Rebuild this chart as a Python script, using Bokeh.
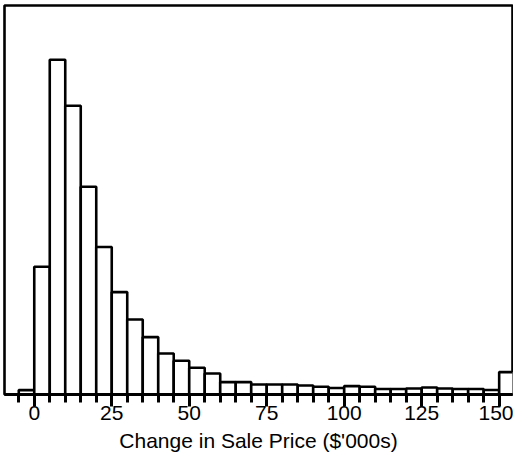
from bokeh.plotting import figure
from bokeh.models import SingleIntervalTicker, Range1d
from bokeh.embed import file_html
from bokeh.resources import INLINE

# Histogram of change in sale price ($'000s), bins of width 5
bin_left = [-5, 0, 5, 10, 15, 20, 25, 30, 35, 40, 45, 50, 55, 60, 65, 70,
            75, 80, 85, 90, 95, 100, 105, 110, 115, 120, 125, 130, 135, 140,
            145, 150]
bin_right = [0, 5, 10, 15, 20, 25, 30, 35, 40, 45, 50, 55, 60, 65, 70, 75,
             80, 85, 90, 95, 100, 105, 110, 115, 120, 125, 130, 135, 140, 145,
             150, 155]
counts = [4.4, 127.7, 334.7, 288.7, 207.7, 147.5, 102.4, 75.0, 57.4, 41.0,
          33.7, 26.7, 21.0, 12.4, 12.4, 10.0, 10.0, 10.0, 9.0, 7.7, 6.5, 8.4,
          7.7, 5.5, 5.5, 6.0, 7.0, 6.0, 5.5, 5.5, 4.5, 22.4]
x_label = "Change in Sale Price ($'000s)"

p = figure(width=513, height=454, output_backend="svg", toolbar_location=None,
           x_range=Range1d(-9.6, 154.3), y_range=Range1d(0, 389),
           min_border_left=4, min_border_right=1, min_border_top=5,
           min_border_bottom=60)

p.quad(left=bin_left, right=bin_right, top=counts, bottom=0,
       fill_color="white", line_color="black", line_width=2.6)

p.background_fill_color = "white"
p.border_fill_color = "white"
p.outline_line_color = "black"
p.outline_line_width = 2.6
p.outline_line_alpha = 1.0
p.xgrid.visible = False
p.ygrid.visible = False
p.yaxis.visible = False

ax = p.xaxis[0]
ax.ticker = SingleIntervalTicker(interval=25, num_minor_ticks=5)
ax.axis_line_width = 3
ax.axis_line_color = "black"
ax.major_tick_line_width = 3
ax.minor_tick_line_width = 3
ax.major_tick_in = 0
ax.minor_tick_in = 0
ax.major_tick_out = 12
ax.minor_tick_out = 8
ax.major_label_text_font = "Liberation Sans"
ax.major_label_text_font_size = "21px"
ax.major_label_text_color = "black"
ax.major_label_standoff = -1
ax.axis_label = x_label
ax.axis_label_text_font = "Liberation Sans"
ax.axis_label_text_font_size = "21px"
ax.axis_label_text_font_style = "normal"
ax.axis_label_text_color = "black"
ax.axis_label_standoff = 6

open("out.html", "w").write(file_html(p, INLINE))
